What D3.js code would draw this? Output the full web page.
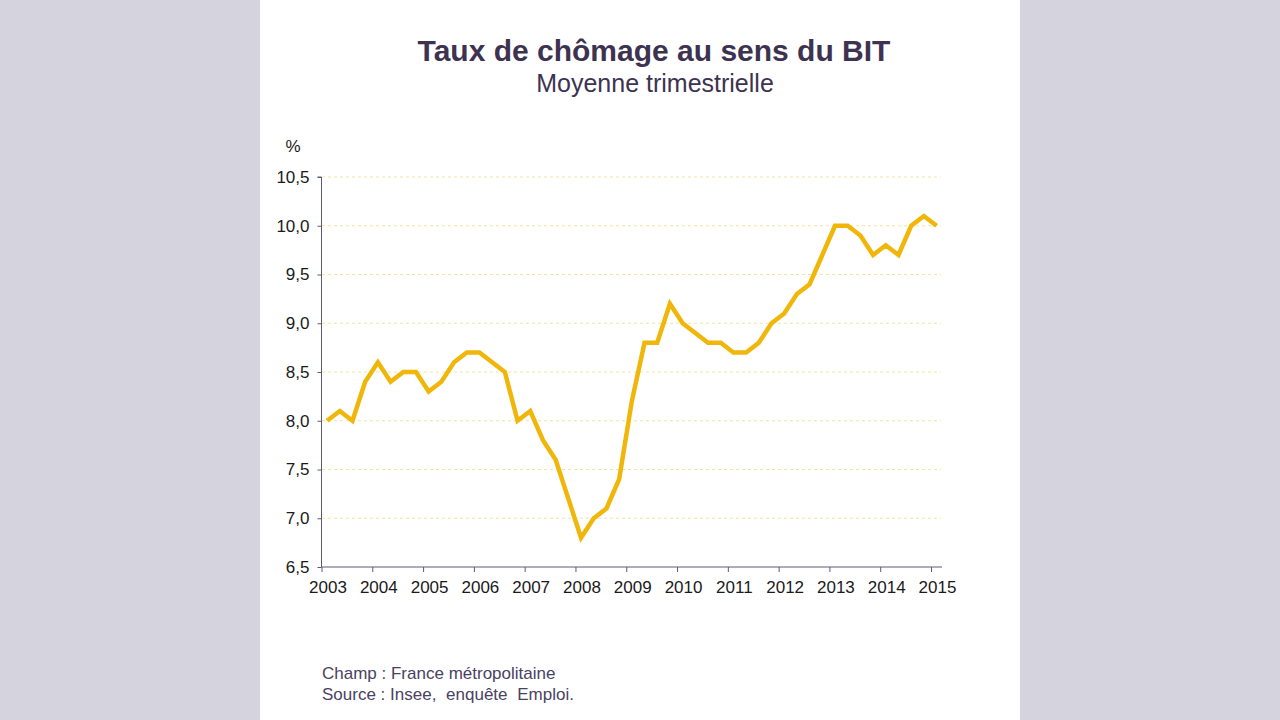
<!DOCTYPE html>
<html>
<head>
<meta charset="utf-8">
<script src="https://cdn.jsdelivr.net/npm/d3@7/dist/d3.min.js"></script>
<style>
  html, body { margin: 0; padding: 0; background: #d4d3de; }
  svg { display: block; }
</style>
</head>
<body>
<svg id="chart" width="1280" height="720"></svg>
<script>
// ---- Data ----
const years = [2003, 2004, 2005, 2006, 2007, 2008, 2009, 2010, 2011, 2012, 2013, 2014, 2015];
const quarterValues = [
  8.0, 8.1, 8.0, 8.4,   // 2003
  8.6, 8.4, 8.5, 8.5,   // 2004
  8.3, 8.4, 8.6, 8.7,   // 2005
  8.7, 8.6, 8.5, 8.0,   // 2006
  8.1, 7.8, 7.6, 7.2,   // 2007
  6.8, 7.0, 7.1, 7.4,   // 2008
  8.2, 8.8, 8.8, 9.2,   // 2009
  9.0, 8.9, 8.8, 8.8,   // 2010
  8.7, 8.7, 8.8, 9.0,   // 2011
  9.1, 9.3, 9.4, 9.7,   // 2012
  10.0, 10.0, 9.9, 9.7, // 2013
  9.8, 9.7, 10.0, 10.1, // 2014
  10.0                  // 2015
];
const yTicks = [6.5, 7.0, 7.5, 8.0, 8.5, 9.0, 9.5, 10.0, 10.5];
const titleText = "Taux de chômage au sens du BIT";
const subtitleText = "Moyenne trimestrielle";
const unitText = "%";
const footerLines = ["Champ : France métropolitaine", "Source : Insee, enquête Emploi."];

// ---- Drawing ----
const svg = d3.select("#chart");
const font = "'Liberation Sans', Arial, sans-serif";

svg.append("rect").attr("x", 260).attr("y", 0).attr("width", 760).attr("height", 720).attr("fill", "#ffffff");

const x = d3.scaleLinear().domain([2003, 2015]).range([321.5, 931]);
const y = d3.scaleLinear().domain([6.5, 10.5]).range([567, 177]);

const points = quarterValues.map((v, i) => ({ t: 2003 + i / 4 + 0.11, v }));

// gridlines
svg.append("g").selectAll("line")
  .data(yTicks.filter(d => d > 6.5))
  .join("line")
  .attr("x1", 322).attr("x2", 941)
  .attr("y1", d => y(d)).attr("y2", d => y(d))
  .attr("stroke", "#f3e3a0").attr("stroke-width", 1)
  .attr("stroke-dasharray", "3,3");

// y axis
const yAxis = d3.axisLeft(y).tickValues(yTicks).tickSize(4).tickPadding(8)
  .tickFormat(d => d3.format(".1f")(d).replace(".", ","));
const gy = svg.append("g").attr("transform", "translate(321.5,0)").call(yAxis);
gy.select(".domain").attr("stroke", "#5d5a72").attr("d", "M-4," + y(10.5) + "H0V" + y(6.5));
gy.selectAll(".tick line").attr("stroke", "#5d5a72");
gy.selectAll("text").attr("font-family", font).attr("font-size", 17).attr("fill", "#1a1a1a");

// x axis
const xAxis = d3.axisBottom(x).tickValues(years).tickSize(5).tickPadding(9).tickFormat(d3.format("d"));
const gx = svg.append("g").attr("transform", "translate(0,567)").call(xAxis);
gx.select(".domain").attr("stroke", "#5d5a72").attr("d", "M321.5,0H942");
gx.selectAll(".tick line").attr("stroke", "#5d5a72");
gx.selectAll("text").attr("font-family", font).attr("font-size", 17).attr("fill", "#1a1a1a")
  .attr("dx", 6);

// line
const line = d3.line().x(d => x(d.t)).y(d => y(d.v));
svg.append("path").datum(points)
  .attr("d", line)
  .attr("fill", "none")
  .attr("stroke", "#f0b70a")
  .attr("stroke-width", 4.5)
  .attr("stroke-linejoin", "miter")
  .attr("stroke-linecap", "butt");

// texts
svg.append("text").attr("x", 654).attr("y", 61).attr("text-anchor", "middle")
  .attr("font-family", font).attr("font-weight", "bold").attr("font-size", 30)
  .attr("fill", "#3d3350").text(titleText);
svg.append("text").attr("x", 655).attr("y", 92).attr("text-anchor", "middle")
  .attr("font-family", font).attr("font-size", 25)
  .attr("fill", "#3d3350").text(subtitleText);
svg.append("text").attr("x", 293).attr("y", 152).attr("text-anchor", "middle")
  .attr("font-family", font).attr("font-size", 17)
  .attr("fill", "#1a1a1a").text(unitText);

const footer = svg.append("g").selectAll("text").data(footerLines).join("text")
  .attr("x", 322).attr("y", (d, i) => 679 + i * 21)
  .attr("font-family", font).attr("font-size", 17)
  .attr("fill", "#4a4262");
footer.each(function(d, li) {
  const words = d.split(" ");
  d3.select(this).selectAll("tspan").data(words).join("tspan")
    .attr("dx", (w, i) => (li === 1 && i >= 3) ? 5 : 0)
    .text((w, i) => (i < words.length - 1 ? w + " " : w));
});
</script>
</body>
</html>
